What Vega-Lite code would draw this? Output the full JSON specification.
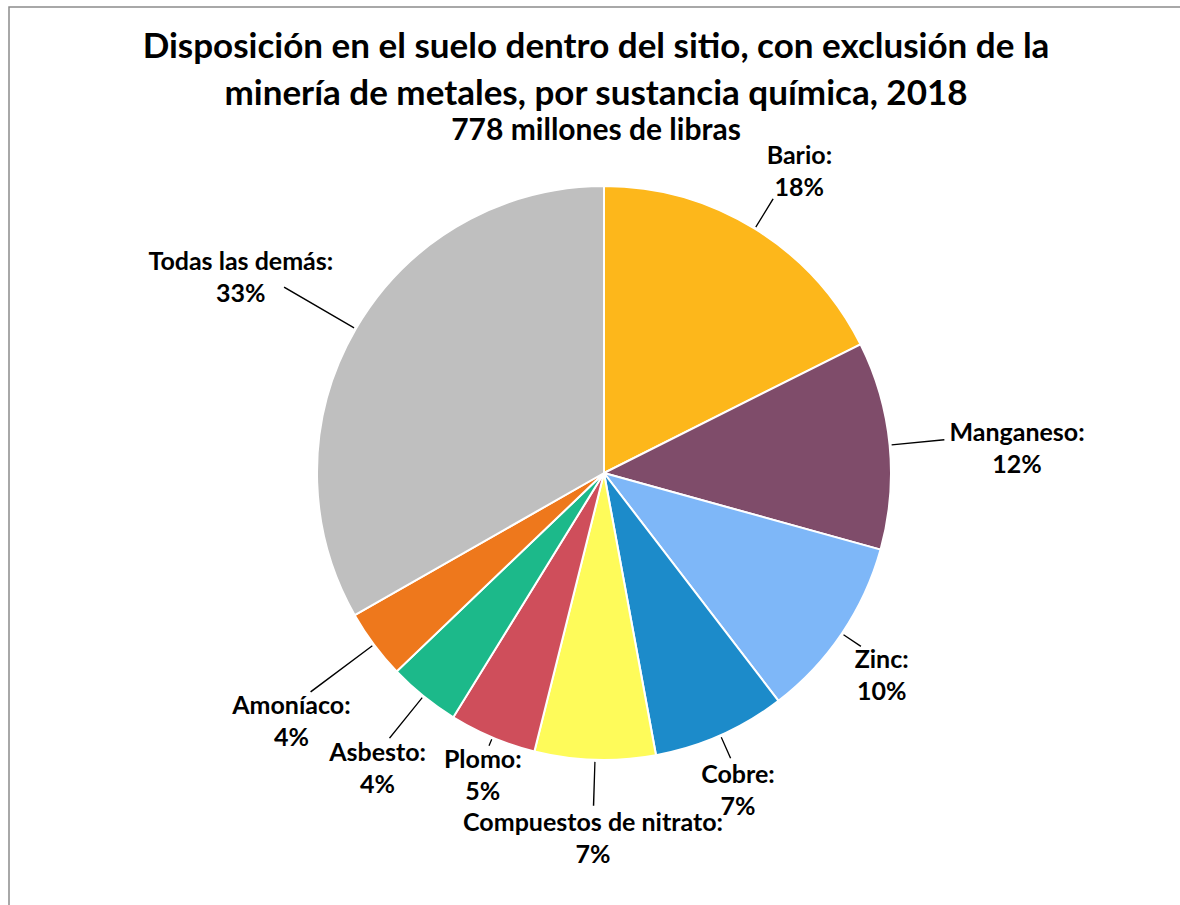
{
  "$schema": "https://vega.github.io/schema/vega-lite/v6.json",
  "autosize": "none",
  "padding": {"left": 9, "top": 7, "right": 0, "bottom": 0},
  "width": 1190,
  "height": 932,
  "background": "white",
  "view": {"stroke": "#8c8c8c", "strokeWidth": 1.5, "fill": null},
  "config": {
    "view": {"stroke": "#8c8c8c", "strokeWidth": 1.5},
    "font": "Lato"
  },
  "title": {
    "text": ["Disposición en el suelo dentro del sitio, con exclusión de la", "minería de metales, por sustancia química, 2018"],
    "subtitle": "778 millones de libras",
    "orient": "top",
    "anchor": "middle",
    "frame": "group",
    "offset": -139,
    "dx": -8,
    "font": "Lato",
    "fontSize": 35,
    "fontWeight": "bold",
    "lineHeight": 47,
    "color": "#000000",
    "subtitleFont": "Lato",
    "subtitleFontSize": 30,
    "subtitleFontWeight": "bold",
    "subtitleColor": "#000000",
    "subtitlePadding": 4
  },
  "data": {
    "values": [
      {"order": 1, "sustancia": "Bario", "pct": 17.6, "label": ["Bario:", "18%"]},
      {"order": 2, "sustancia": "Manganeso", "pct": 11.7, "label": ["Manganeso:", "12%"]},
      {"order": 3, "sustancia": "Zinc", "pct": 10.3, "label": ["Zinc:", "10%"]},
      {"order": 4, "sustancia": "Cobre", "pct": 7.5, "label": ["Cobre:", "7%"]},
      {"order": 5, "sustancia": "Compuestos de nitrato", "pct": 6.8, "label": ["Compuestos de nitrato:", "7%"]},
      {"order": 6, "sustancia": "Plomo", "pct": 4.9, "label": ["Plomo:", "5%"]},
      {"order": 7, "sustancia": "Asbesto", "pct": 4.05, "label": ["Asbesto:", "4%"]},
      {"order": 8, "sustancia": "Amoníaco", "pct": 3.9, "label": ["Amoníaco:", "4%"]},
      {"order": 9, "sustancia": "Todas las demás", "pct": 33.25, "label": ["Todas las demás:", "33%"]}
    ]
  },
  "encoding": {
    "theta": {"field": "pct", "type": "quantitative", "stack": true},
    "order": {"field": "order", "type": "quantitative"}
  },
  "layer": [
    {
      "mark": {"type": "arc", "outerRadius": 287, "stroke": "white", "strokeWidth": 2},
      "encoding": {
        "color": {
          "field": "sustancia",
          "type": "nominal",
          "scale": {
            "domain": ["Bario", "Manganeso", "Zinc", "Cobre", "Compuestos de nitrato", "Plomo", "Asbesto", "Amoníaco", "Todas las demás"],
            "range": ["#FDB71B", "#7F4C6A", "#7EB7F8", "#1C8BCA", "#FEFB5A", "#CF4E5B", "#1CB98A", "#EE781C", "#BFBFBF"]
          },
          "legend": null
        }
      }
    },
    {
      "transform": [
        {"stack": "pct", "groupby": [], "sort": [{"field": "order", "order": "ascending"}], "as": ["s0", "s1"]}
      ],
      "mark": {
        "type": "arc",
        "innerRadius": 289,
        "outerRadius": {"expr": "{'Bario': 322, 'Manganeso': 342, 'Zinc': 310, 'Cobre': 312, 'Compuestos de nitrato': 333, 'Plomo': 296, 'Asbesto': 341, 'Amoníaco': 366, 'Todas las demás': 370}[datum.sustancia]"},
        "thetaOffset": {"expr": "datum.pct * PI / 100 - 0.0022"},
        "theta2Offset": {"expr": "0.0022 - datum.pct * PI / 100"},
        "color": "#000000"
      },
      "encoding": {
        "theta": {"field": "s0", "type": "quantitative", "stack": null},
        "theta2": {"field": "s1"}
      }
    },
    {
      "mark": {"type": "text", "radius": 372, "fontSize": 25, "fontWeight": "bold", "lineHeight": 32, "color": "#000000"},
      "encoding": {"text": {"condition": {"test": "datum.sustancia === 'Bario'", "field": "label"}, "value": ""}}
    },
    {
      "mark": {"type": "text", "radius": 415, "fontSize": 25, "fontWeight": "bold", "lineHeight": 32, "color": "#000000"},
      "encoding": {"text": {"condition": {"test": "datum.sustancia === 'Manganeso'", "field": "label"}, "value": ""}}
    },
    {
      "mark": {"type": "text", "radius": 335, "fontSize": 25, "fontWeight": "bold", "lineHeight": 32, "color": "#000000"},
      "encoding": {"text": {"condition": {"test": "datum.sustancia === 'Zinc'", "field": "label"}, "value": ""}}
    },
    {
      "mark": {"type": "text", "radius": 330, "fontSize": 25, "fontWeight": "bold", "lineHeight": 32, "color": "#000000"},
      "encoding": {"text": {"condition": {"test": "datum.sustancia === 'Cobre'", "field": "label"}, "value": ""}}
    },
    {
      "mark": {"type": "text", "radius": 350, "fontSize": 25, "fontWeight": "bold", "lineHeight": 32, "color": "#000000"},
      "encoding": {"text": {"condition": {"test": "datum.sustancia === 'Compuestos de nitrato'", "field": "label"}, "value": ""}}
    },
    {
      "mark": {"type": "text", "radius": 312, "fontSize": 25, "fontWeight": "bold", "lineHeight": 32, "color": "#000000"},
      "encoding": {"text": {"condition": {"test": "datum.sustancia === 'Plomo'", "field": "label"}, "value": ""}}
    },
    {
      "mark": {"type": "text", "radius": 360, "fontSize": 25, "fontWeight": "bold", "lineHeight": 32, "color": "#000000"},
      "encoding": {"text": {"condition": {"test": "datum.sustancia === 'Asbesto'", "field": "label"}, "value": ""}}
    },
    {
      "mark": {"type": "text", "radius": 390, "fontSize": 25, "fontWeight": "bold", "lineHeight": 32, "color": "#000000"},
      "encoding": {"text": {"condition": {"test": "datum.sustancia === 'Amoníaco'", "field": "label"}, "value": ""}}
    },
    {
      "mark": {"type": "text", "radius": 420, "fontSize": 25, "fontWeight": "bold", "lineHeight": 32, "color": "#000000"},
      "encoding": {"text": {"condition": {"test": "datum.sustancia === 'Todas las demás'", "field": "label"}, "value": ""}}
    }
  ]
}
